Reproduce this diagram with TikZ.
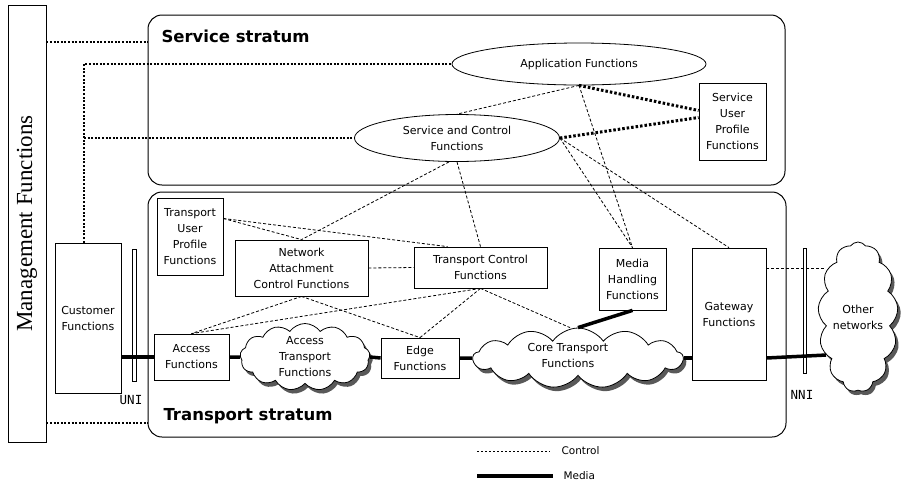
\documentclass[tikz,border=0pt]{standalone}
\usepackage{fontspec}
\setmainfont{DejaVu Sans}
\newfontfamily\mgmtserif{Liberation Serif}
\newfontfamily\ifacefont{DejaVu Sans Mono}
\usepackage{tikz}
\usetikzlibrary{shapes.geometric,shapes.symbols,shadows}

\begin{document}
\begin{tikzpicture}[
            x=1pt, y=-1pt,
            font=\fontsize{11}{16}\selectfont,
            box/.style={draw, line width=0.8pt, align=center, inner sep=0pt},
            oval/.style={draw, ellipse, line width=0.8pt, align=center, inner sep=0pt},
            stratum/.style={draw, line width=1pt, rounded corners=14pt, inner sep=0pt},
            netcloud/.style={
                draw, cloud, cloud puffs=13, cloud puff arc=110, cloud ignores aspect,
                line width=0.8pt, fill=white, inner sep=0pt,
                drop shadow={shadow xshift=3pt, shadow yshift=-4pt, fill=black!65, opacity=1}
            },
            bar/.style={draw, line width=0.6pt, minimum width=3.5pt, inner sep=0pt},
            ctrl/.style={line width=0.8pt, dash pattern=on 3pt off 2pt},
            mgmtdot/.style={line width=2.2pt, dash pattern=on 2pt off 1.6pt},
            userdot/.style={line width=3pt, dash pattern=on 2.5pt off 2pt},
            media/.style={line width=3.5pt}
        ]
            \useasboundingbox (0,0) rectangle (902,483);
            \node[box, rotate=90, minimum width=437pt, minimum height=38pt,
                font=\mgmtserif\fontsize{23}{23}\selectfont] (mgmt) at (27,223.5) {Management Functions};
            \node[stratum, minimum width=637pt, minimum height=170pt] (service) at (466.5,100) {};
            \node[stratum, minimum width=638pt, minimum height=245pt] (transport) at (467,314.5) {};
            \node[anchor=west, font=\bfseries\fontsize{16.5}{18}\selectfont] (servicelbl) at (158,36) {Service stratum};
            \node[anchor=west, font=\bfseries\fontsize{16.5}{18}\selectfont] (transportlbl) at (160,416) {Transport stratum};

            \node[oval, minimum width=254pt, minimum height=42pt] (app) at (579,64) {Application Functions};
            \node[oval, minimum width=205pt, minimum height=47pt] (sc) at (457,138) {Service and Control\\Functions};
            \node[box, minimum width=67pt, minimum height=77pt] (sup) at (732.5,121.5) {Service\\User\\Profile\\Functions};
            \node[box, minimum width=66pt, minimum height=77pt] (tup) at (190,236.5) {Transport\\User\\Profile\\Functions};
            \node[box, minimum width=133pt, minimum height=56pt] (nacf) at (301.5,268) {Network\\Attachment\\Control Functions};
            \node[box, minimum width=133pt, minimum height=41pt] (tc) at (480.5,267.5) {Transport Control\\Functions};
            \node[box, minimum width=67pt, minimum height=62pt] (mh) at (632.5,279) {Media\\Handling\\Functions};
            \node[box, minimum width=74pt, minimum height=132pt] (gw) at (729,314) {Gateway\\Functions};
            \node[box, minimum width=66pt, minimum height=150pt] (cust) at (88,318) {Customer\\Functions};
            \node[box, minimum width=75pt, minimum height=46pt] (acc) at (191.5,357) {Access\\Functions};
            \node[box, minimum width=78pt, minimum height=40pt] (edge) at (420,358) {Edge\\Functions};
            \node[netcloud, minimum width=130pt, minimum height=67pt,
                label={[align=center]center:Access\\Transport\\Functions}] (atf) at (305,357) {};
            \node[netcloud, minimum width=210pt, minimum height=60pt,
                label={[align=center, xshift=-10pt, yshift=3pt]center:Core Transport\\Functions}] (ctf) at (578,358) {};
            \node[netcloud, minimum width=80pt, minimum height=150pt,
                label={[align=center]center:Other\\networks}] (other) at (858,317) {};

            \node[bar, minimum height=132pt] (unibar) at (134.5,315) {};
            \node[font=\ifacefont\fontsize{12.5}{13}\selectfont] (uni) at (131,400) {UNI};
            \node[bar, minimum height=125pt] (nnibar) at (805,310.5) {};
            \node[font=\ifacefont\fontsize{12.5}{13}\selectfont] (nni) at (802,395) {NNI};

            \coordinate (custup) at ([xshift=-4pt]cust.north);
            \coordinate (gwport) at ([yshift=46pt]gw.east);
            \draw[mgmtdot] (mgmt.south |- 0,42) -- (service.west |- 0,42);
            \draw[mgmtdot] (mgmt.south |- 0,423) -- (transport.west |- 0,423);
            \draw[mgmtdot] (custup) |- (app.west);
            \draw[mgmtdot] (custup |- sc.west) -- (sc.west);
            \draw[userdot] (app.south) -- ([yshift=11pt]sup.west);
            \draw[userdot] (sc.east) -- ([yshift=4pt]sup.west);

            \draw[ctrl] (app.south) -- (sc.north);
            \draw[ctrl] (app.south) -- (mh.north);
            \draw[ctrl] (sc.east) -- (mh.north);
            \draw[ctrl] (sc.east) -- (gw.north);
            \draw[ctrl] (sc.south) -- (tc.north);
            \draw[ctrl] ([xshift=-8pt]sc.south) -- (nacf.north);
            \draw[ctrl] ([yshift=18pt]tup.east) -- (nacf.north);
            \draw[ctrl] ([yshift=18pt]tup.east) -- ([xshift=-33pt]tc.north);
            \draw[ctrl] (nacf.east) -- (tc.west);
            \draw[ctrl] (nacf.south) -- (acc.north);
            \draw[ctrl] (nacf.south) -- (edge.north);
            \draw[ctrl] (tc.south) -- (acc.north);
            \draw[ctrl] (tc.south) -- (edge.north);
            \draw[ctrl] (tc.south) -- ([xshift=-8pt]ctf.north);
            \draw[ctrl] (gwport) -- (gwport -| other.133);

            \draw[media] (acc.west -| cust.east) -- (acc.west);
            \draw[media] (acc.east) -- (atf.west);
            \draw[media] (atf.east) -- (edge.west);
            \draw[media] (edge.east) -- (ctf.west);
            \draw[media] (ctf.east) -- (ctf.east -| gw.west);
            \draw[media] (ctf.east -| gw.east) -- (other.230);
            \draw[media] (mh.south) -- (ctf.north);

            \node[anchor=west, font=\fontsize{10.5}{12}\selectfont] (ctrlkey) at (558,451) {Control};
            \node[anchor=west, font=\fontsize{10.5}{12}\selectfont] (mediakey) at (560,476) {Media};
            \draw[line width=0.8pt, dash pattern=on 2pt off 2pt] ([xshift=-81pt]ctrlkey.west) -- ([xshift=-8pt]ctrlkey.west);
            \draw[media] ([xshift=-83pt]mediakey.west) -- ([xshift=-7pt]mediakey.west);
        \end{tikzpicture}
\end{document}
